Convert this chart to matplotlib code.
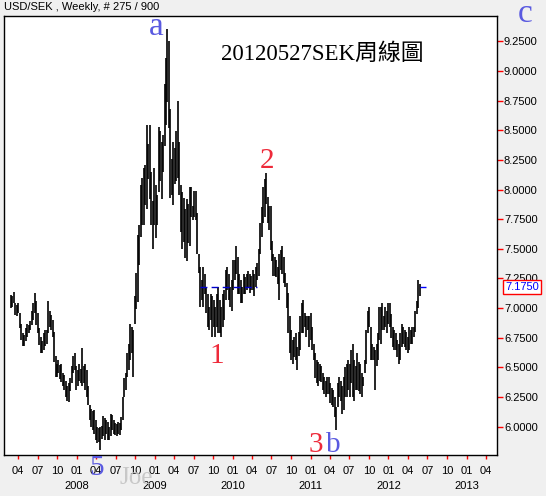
import datetime as dt
import numpy as np
import matplotlib
matplotlib.use("Agg")
import matplotlib.pyplot as plt

## weekly USD/SEK bars, first bar = week of 2007-02-25, last = 2012-05-27
first_week = dt.date(2007, 2, 25)

highs = [
    7.11, 7.10, 7.14, 7.04, 7.03, 7.04, 6.96, 6.87, 6.79, 6.77,
    6.83, 6.87, 6.86, 6.89, 6.98, 7.04, 7.13, 7.06, 6.96, 6.83,
    6.76, 6.72, 6.79, 6.82, 6.82, 7.06, 6.98, 6.94, 6.90, 6.80,
    6.60, 6.53, 6.56, 6.52, 6.53, 6.45, 6.44, 6.39, 6.34, 6.37,
    6.41, 6.51, 6.60, 6.62, 6.51, 6.48, 6.53, 6.49, 6.66, 6.51,
    6.53, 6.48, 6.34, 6.18, 6.15, 6.13, 6.14, 6.06, 6.00, 5.99,
    6.00, 6.01, 6.09, 6.07, 6.06, 6.04, 6.00, 6.11, 6.10, 6.06,
    6.03, 6.02, 6.04, 6.03, 6.08, 6.25, 6.41, 6.45, 6.62, 6.70,
    6.87, 6.84, 6.82, 7.10, 7.30, 7.62, 7.70, 8.04, 8.10, 8.18,
    8.21, 8.54, 8.38, 8.54, 8.15, 7.90, 8.18, 8.04, 7.95, 8.53,
    8.49, 8.40, 8.46, 8.89, 9.11, 9.35, 9.25, 8.68, 8.26, 8.40,
    8.35, 8.49, 8.75, 8.40, 8.04, 7.98, 7.93, 7.84, 7.92, 7.88,
    8.02, 8.02, 7.86, 7.99, 7.99, 7.80, 7.46, 7.35, 7.24, 7.35,
    7.29, 7.18, 7.12, 7.01, 7.12, 7.10, 7.07, 7.01, 7.12, 7.18,
    7.07, 7.01, 7.12, 7.15, 7.32, 7.35, 7.29, 7.18, 7.24, 7.41,
    7.41, 7.52, 7.43, 7.29, 7.24, 7.18, 7.29, 7.26, 7.29, 7.31,
    7.29, 7.27, 7.32, 7.29, 7.35, 7.38, 7.50, 7.72, 7.85, 8.02,
    8.09, 8.14, 7.94, 7.86, 7.86, 7.57, 7.46, 7.43, 7.41, 7.35,
    7.46, 7.49, 7.52, 7.43, 7.30, 7.21, 7.13, 6.93, 6.82, 6.73,
    6.76, 6.79, 6.67, 6.80, 6.93, 7.04, 7.07, 6.96, 6.93, 6.93,
    6.93, 6.96, 6.84, 6.70, 6.62, 6.56, 6.55, 6.53, 6.51, 6.45,
    6.42, 6.39, 6.42, 6.42, 6.37, 6.33, 6.31, 6.25, 6.17, 6.37,
    6.42, 6.39, 6.34, 6.42, 6.50, 6.53, 6.56, 6.53, 6.65, 6.70,
    6.56, 6.51, 6.62, 6.55, 6.53, 6.45, 6.42, 6.56, 6.82, 6.98,
    7.01, 6.84, 6.70, 6.67, 6.65, 6.70, 6.79, 7.01, 7.01, 7.04,
    6.93, 7.01, 6.98, 7.04, 7.04, 6.95, 6.84, 6.82, 6.79, 6.73,
    6.70, 6.79, 6.87, 6.84, 6.82, 6.80, 6.76, 6.84, 6.82, 6.84,
    6.84, 6.98, 7.06, 7.24, 7.20,
]
lows = [
    7.00, 7.01, 7.04, 6.94, 6.93, 6.96, 6.83, 6.73, 6.68, 6.68,
    6.72, 6.76, 6.79, 6.82, 6.86, 6.90, 6.96, 6.86, 6.79, 6.69,
    6.62, 6.62, 6.65, 6.68, 6.70, 6.79, 6.84, 6.82, 6.76, 6.55,
    6.42, 6.42, 6.45, 6.40, 6.38, 6.34, 6.31, 6.25, 6.22, 6.21,
    6.30, 6.37, 6.45, 6.48, 6.31, 6.34, 6.39, 6.37, 6.34, 6.37,
    6.31, 6.25, 6.18, 6.06, 6.00, 5.97, 5.94, 5.89, 5.86, 5.87,
    5.80, 5.90, 5.92, 5.89, 5.94, 5.89, 5.89, 5.92, 5.97, 5.94,
    5.93, 5.92, 5.94, 5.93, 5.97, 6.06, 6.25, 6.31, 6.42, 6.48,
    6.56, 6.62, 6.42, 6.87, 6.99, 7.05, 7.36, 7.60, 7.70, 7.70,
    7.87, 7.84, 8.09, 7.92, 7.70, 7.50, 7.70, 7.59, 7.70, 7.98,
    8.07, 7.92, 8.15, 8.37, 8.54, 8.74, 8.52, 7.93, 7.95, 7.87,
    8.05, 8.07, 8.10, 7.95, 7.64, 7.50, 7.56, 7.42, 7.40, 7.55,
    7.52, 7.77, 7.74, 7.77, 7.74, 7.46, 7.30, 7.01, 7.07, 7.01,
    7.12, 6.96, 6.84, 6.82, 6.90, 6.76, 6.84, 6.76, 6.84, 6.79,
    6.79, 6.76, 6.84, 6.90, 7.07, 7.15, 7.07, 7.01, 6.98, 7.15,
    7.24, 7.29, 7.12, 7.12, 7.04, 7.04, 7.12, 7.12, 7.15, 7.18,
    7.13, 7.15, 7.15, 7.10, 7.18, 7.24, 7.27, 7.46, 7.60, 7.72,
    7.77, 7.88, 7.72, 7.66, 7.49, 7.40, 7.27, 7.27, 7.26, 7.20,
    7.07, 7.32, 7.29, 7.21, 7.18, 7.00, 6.79, 6.62, 6.56, 6.53,
    6.59, 6.56, 6.48, 6.60, 6.65, 6.79, 6.79, 6.84, 6.76, 6.82,
    6.67, 6.73, 6.65, 6.56, 6.41, 6.37, 6.34, 6.39, 6.38, 6.31,
    6.28, 6.25, 6.28, 6.28, 6.20, 6.18, 6.17, 6.08, 5.97, 6.17,
    6.25, 6.22, 6.11, 6.14, 6.25, 6.25, 6.31, 6.25, 6.37, 6.25,
    6.22, 6.31, 6.31, 6.30, 6.28, 6.25, 6.34, 6.45, 6.53, 6.79,
    6.84, 6.56, 6.56, 6.56, 6.31, 6.51, 6.56, 6.73, 6.70, 6.82,
    6.82, 6.84, 6.79, 6.87, 6.84, 6.75, 6.67, 6.65, 6.65, 6.59,
    6.53, 6.56, 6.67, 6.70, 6.67, 6.65, 6.62, 6.65, 6.70, 6.70,
    6.76, 6.80, 6.95, 7.00, 7.10,
]
last_close = 7.175

y_ticks = [6.0, 6.25, 6.5, 6.75, 7.0, 7.25, 7.5, 7.75, 8.0, 8.25, 8.5, 8.75, 9.0, 9.25]
years = [2007, 2008, 2009, 2010, 2011, 2012, 2013]
year_labels = ["2008", "2009", "2010", "2011", "2012", "2013"]

plt.rcParams['font.family'] = ['Liberation Sans', 'Noto Sans CJK TC']

W, H = 546, 496
fig = plt.figure(figsize=(W / 100, H / 100), dpi=100, facecolor='#f0f0f0')

def fx(px):
    return px / W

def fy(py):
    return 1 - py / H

ax = fig.add_axes([fx(4), fy(455), fx(497) - fx(4), fy(16) - fy(455)])
ax.set_facecolor('white')
for s in ax.spines.values():
    s.set_color('black')
    s.set_linewidth(1.0)

x = np.arange(len(highs))
ax.vlines(x, lows, highs, colors='black', linewidth=1.2, zorder=3)
ax.hlines(last_close, x[-1], x[-1] + 4, colors='#0000ff', linewidth=1.0, zorder=3)
ax.hlines(last_close, 127, 165, colors='#0000cc', linewidth=1.0,
          linestyles=(0, (5, 3)), zorder=4)

ax.set_xlim(-4.5, 325.7)
ax.set_ylim(5.762, 9.463)

## right price axis
ax.yaxis.tick_right()
ax.set_yticks(y_ticks)
ax.set_yticklabels([f"{v:.4f}" for v in y_ticks])
ax.tick_params(axis='y', colors='red', labelcolor='black', length=4, width=1,
               labelsize=8, pad=1)

## quarterly date ticks
pos, labs, jan_pos = [], [], []
for yr in years:
    for m in [1, 4, 7, 10]:
        d = dt.date(yr, m, 1)
        p = (d - first_week).days / 7
        if -4 < p < 325:
            pos.append(p)
            labs.append(f"{m:02d}")
            if m == 1:
                jan_pos.append(p)
ax.set_xticks(pos)
ax.set_xticklabels(labs)
ax.tick_params(axis='x', colors='red', labelcolor='black', length=3, width=1,
               labelsize=8, pad=5)
for p, lab in zip(jan_pos, year_labels):
    ax.text(p, -0.07, lab, transform=ax.get_xaxis_transform(), ha='center',
            va='center', fontsize=8, color='black')

## header and labels
fig.text(fx(4), fy(7), "USD/SEK , Weekly, # 275 / 900", ha='left', va='center', fontsize=8)
fig.text(fx(322), fy(60), "20120527SEK周線圖", ha='center', va='baseline', fontsize=16.5,
         family=['Liberation Serif', 'Noto Sans CJK TC'])

blue = '#5a5ae0'
red = '#ee2a3a'
serif = ['Liberation Serif']
fig.text(fx(156), fy(35), "a", ha='center', va='baseline', fontsize=24, color=blue, family=serif)
fig.text(fx(525), fy(22), "c", ha='center', va='baseline', fontsize=24, color=blue, family=serif)
fig.text(fx(267), fy(168), "2", ha='center', va='baseline', fontsize=21, color=red, family=serif)
fig.text(fx(217), fy(363), "1", ha='center', va='baseline', fontsize=21, color=red, family=serif)
fig.text(fx(96), fy(475), "5", ha='center', va='baseline', fontsize=21, color=blue, family=serif)
fig.text(fx(316), fy(452), "3", ha='center', va='baseline', fontsize=21, color=red, family=serif)
fig.text(fx(333), fy(452), "b", ha='center', va='baseline', fontsize=21, color=blue, family=serif)
fig.text(fx(136), fy(484), "Joe", ha='center', va='baseline', fontsize=18, color='#c4c4c4',
         family=serif, alpha=0.9)

## last price box
fig.text(fx(522), fy(287), f"{last_close:.4f}", ha='center', va='center', fontsize=8,
         color='#0000ff',
         bbox=dict(boxstyle='square,pad=0.15', facecolor='white', edgecolor='red', linewidth=1))

fig.savefig("out.png", dpi=100, facecolor=fig.get_facecolor())
